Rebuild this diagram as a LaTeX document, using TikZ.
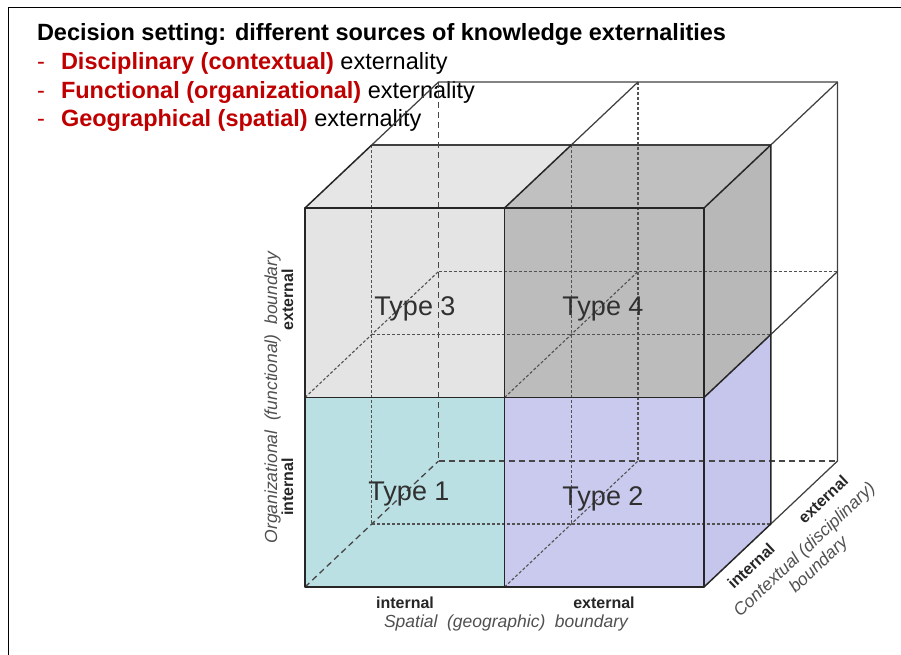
\documentclass[tikz,border=0pt]{standalone}
\usepackage{fontspec}
\setmainfont{Liberation Sans}
\definecolor{kred}{HTML}{C00000}
\definecolor{typegray}{HTML}{303030}
\definecolor{axgray}{HTML}{505050}
\definecolor{facethree}{HTML}{E4E4E4}
\definecolor{facefour}{HTML}{BCBCBC}
\definecolor{faceone}{HTML}{BBE0E4}
\definecolor{facetwo}{HTML}{CACAEE}
\definecolor{topleft}{HTML}{E6E6E6}
\definecolor{topright}{HTML}{C0C0C0}
\definecolor{sideup}{HTML}{B8B8B8}
\definecolor{sidelow}{HTML}{C6C6EC}
\newcommand{\wgap}{\hspace{0.55em}}
\begin{document}
\begin{tikzpicture}[x=1pt, y=-1pt,
  txt/.style={inner sep=0pt, outer sep=0pt},
  titletext/.style={txt, font=\fontsize{23.5}{28}\selectfont\bfseries},
  itemtext/.style={txt, font=\fontsize{23.5}{28}\selectfont},
  typelbl/.style={txt, font=\fontsize{27}{30}\selectfont, text=typegray},
  axlbl/.style={txt, font=\fontsize{17.5}{20.5}\selectfont\itshape, text=axgray},
  sidelbl/.style={txt, font=\fontsize{16}{18}\selectfont\bfseries, text=black!85},
  frontedge/.style={draw=black!85, line width=1.5pt, line join=round},
  wireedge/.style={draw=black!75, line width=1.25pt, line join=round},
  hidden/.style={draw=black!68, line width=1.1pt, dash pattern=on 3pt off 2pt},
  hiddenlong/.style={draw=black!72, line width=1.3pt, dash pattern=on 6pt off 4pt}]
\useasboundingbox (0,0) rectangle (901,654);
\clip (0,0) rectangle (901,654);

% slide frame
\draw[line width=1.6pt] (8.5,670) -- (8.5,7.5) -- (920,7.5);

% heading and bullet list
\node[titletext, anchor=base west] (title) at (37,40.5)
  {Decision setting: different sources of knowledge externalities};
\node[itemtext, anchor=base west, text=kred] (dashA) at (37,69.5) {-};
\node[itemtext, anchor=base west] (itemA) at (61,69.5)
  {\textcolor{kred}{\bfseries Disciplinary (contextual)} externality};
\node[itemtext, anchor=base west, text=kred] (dashB) at (37,98) {-};
\node[itemtext, anchor=base west] (itemB) at (61,98)
  {\textcolor{kred}{\bfseries Functional (organizational)} externality};
\node[itemtext, anchor=base west, text=kred] (dashC) at (37,126.5) {-};
\node[itemtext, anchor=base west] (itemC) at (61,126.5)
  {\textcolor{kred}{\bfseries Geographical (spatial)} externality};

% lattice of corner points: p<column><row><depth>
\foreach \i/\x in {0/305,1/504.5,2/704}
  \foreach \j/\y in {0/208,1/397.5,2/587}
    \foreach \k in {0,1,2}
      \coordinate (p\i\j\k) at ({\x+66.75*\k},{\y-63*\k});

% shaded faces of the front half
\fill[facethree] (p000) rectangle (p110);
\fill[facefour]  (p100) rectangle (p210);
\fill[faceone]   (p010) rectangle (p120);
\fill[facetwo]   (p110) rectangle (p220);
\fill[topleft]   (p000) -- (p001) -- (p101) -- (p100) -- cycle;
\fill[topright]  (p100) -- (p101) -- (p201) -- (p200) -- cycle;
\fill[sideup]    (p200) -- (p201) -- (p211) -- (p210) -- cycle;
\fill[sidelow]   (p210) -- (p211) -- (p221) -- (p220) -- cycle;

% hidden edges
\draw[hidden] (p001) -- (p021);
\draw[hidden] (p101) -- (p121);
\draw[hidden] (p011) -- (p211);
\draw[hidden] (p021) -- (p221);
\draw[hidden] (p102) -- (p122);
\draw[hidden] (p012) -- (p212);
\draw[hidden] (p010) -- (p012);
\draw[hidden] (p110) -- (p112);
\draw[hidden] (p120) -- (p122);
\draw[hiddenlong] (p002) -- (p022);
\draw[hiddenlong] (p022) -- (p222);
\draw[hiddenlong] (p020) -- (p022);

% back half wireframe
\draw[wireedge] (p001) -- (p002) -- (p202) -- (p222) -- (p221);
\draw[wireedge] (p101) -- (p102);
\draw[wireedge] (p201) -- (p202);
\draw[wireedge] (p211) -- (p212);

% visible edges of the front half
\draw[wireedge] (p001) -- (p201);
\draw[frontedge] (p000) -- (p001);
\draw[frontedge] (p100) -- (p101);
\draw[frontedge] (p200) -- (p201) -- (p221) -- (p220);
\draw[frontedge] (p210) -- (p211);
\draw[frontedge] (p000) rectangle (p220);
\draw[frontedge] (p100) -- (p120);
\draw[frontedge] (p010) -- (p210);

% cell labels
\node[typelbl, anchor=base] (typeC) at (415,315) {Type 3};
\node[typelbl, anchor=base] (typeD) at (603,315) {Type 4};
\node[typelbl, anchor=base] (typeA) at (409,500) {Type 1};
\node[typelbl, anchor=base] (typeB) at (603,505) {Type 2};

% spatial axis
\node[sidelbl, anchor=base] (spIn)  at (405,608) {internal};
\node[sidelbl, anchor=base] (spOut) at (604,608) {external};
\node[axlbl, anchor=base] (spName) at (506,627)
  {Spatial\wgap(geographic)\wgap boundary};

% organizational axis
\node[axlbl, anchor=base, rotate=90] (orgName) at (277,397.5)
  {Organizational\wgap(functional)\wgap boundary};
\node[sidelbl, anchor=base, rotate=90] (orgOut) at (293,300) {external};
\node[sidelbl, anchor=base, rotate=90] (orgIn)  at (293,487) {internal};

% contextual axis
\node[sidelbl, rotate=43.3] (ctxIn)  at (751,566) {internal};
\node[sidelbl, rotate=43.3] (ctxOut) at (823,499.5) {external};
\node[axlbl, rotate=43.3, align=center] (ctxName) at (812,558)
  {Contextual (disciplinary)\\boundary};
\end{tikzpicture}
\end{document}
